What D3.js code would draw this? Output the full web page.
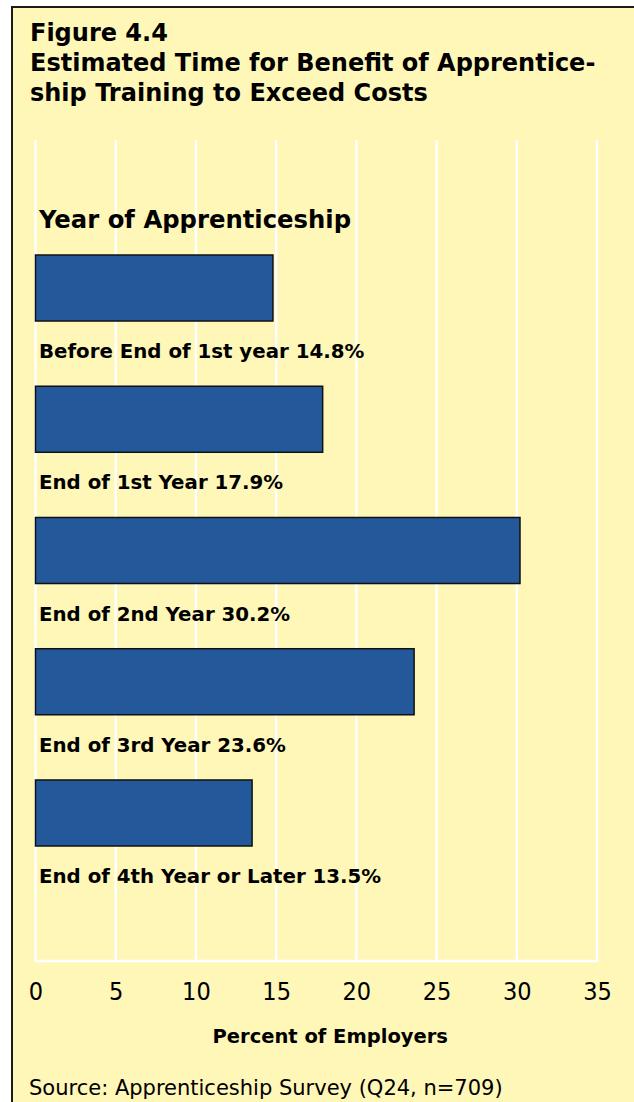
<!DOCTYPE html>
<html>
<head>
<meta charset="utf-8">
<script src="https://cdn.jsdelivr.net/npm/d3@7"></script>
<style>
    html, body { margin: 0; padding: 0; background: #fff; }
    svg { display: block; }
    .title { font-family: "DejaVu Sans", sans-serif; font-weight: 700; fill: #000; }
    .lbl { font-family: "DejaVu Sans", sans-serif; font-weight: 700; fill: #000; }
    .tick-lbl { font-family: "Liberation Sans Narrow", "DejaVu Sans Condensed", sans-serif; fill: #000; }
    .src { font-family: "DejaVu Sans", sans-serif; fill: #000; }
</style>
</head>
<body>
<svg id="chart" width="634" height="1102"></svg>
<script>

// values
const categories = [
    "Before End of 1st year",
    "End of 1st Year",
    "End of 2nd Year",
    "End of 3rd Year",
    "End of 4th Year or Later"
];
const percents = [14.8, 17.9, 30.2, 23.6, 13.5];
const tickValues = [0, 5, 10, 15, 20, 25, 30, 35];
const titleLines = [
    "Figure 4.4",
    "Estimated Time for Benefit of Apprentice-",
    "ship Training to Exceed Costs"
];


const W = 634, H = 1102;
const BG = "#fef7b8",
    BAR = "#23599b";

const svg = d3.select("#chart");

// panel, runs off the right and bottom edge
svg.append("rect")
    .attr("x", 12)
    .attr("y", 7)
    .attr("width", W + 10)
    .attr("height", H + 10)
    .attr("fill", BG)
    .attr("stroke", "#1a1a1a")
    .attr("stroke-width", 2);

svg.selectAll("text.title")
    .data(titleLines)
    .enter()
    .append("text")
    .attr("class", "title")
    .attr("x", 30)
    .attr("y", (d, i) => 41 + i * 30)
    .attr("font-size", 24)
    .text(d => d);

let x = d3.scaleLinear()
    .domain([0, 35])
    .range([35.5, 597]);

let y = d3.scaleBand()
    .domain(categories)
    .range([255, 846])
    .paddingInner(0.497)
    .paddingOuter(0);

const gridTop = 140, gridBottom = 961;

// white grid
svg.append("g")
    .selectAll("line")
    .data(tickValues)
    .enter()
    .append("line")
    .attr("x1", d => x(d))
    .attr("x2", d => x(d))
    .attr("y1", gridTop)
    .attr("y2", gridBottom)
    .attr("stroke", "#fff")
    .attr("stroke-width", 2.5);

svg.append("line")
    .attr("x1", x(0) - 1.25)
    .attr("x2", x(35) + 1.25)
    .attr("y1", gridBottom)
    .attr("y2", gridBottom)
    .attr("stroke", "#fff")
    .attr("stroke-width", 2.5);

svg.append("text")
    .attr("class", "title")
    .attr("x", 39)
    .attr("y", 228)
    .attr("font-size", 24.3)
    .text("Year of Apprenticeship");

let rows = categories.map((c, i) => ({ cat: c, v: percents[i] }));

svg.append("g")
    .selectAll("rect")
    .data(rows)
    .enter()
    .append("rect")
    .attr("x", x(0))
    .attr("y", d => y(d.cat))
    .attr("width", d => x(d.v) - x(0))
    .attr("height", y.bandwidth())
    .attr("fill", BAR)
    .attr("stroke", "#111")
    .attr("stroke-width", 1.5);

svg.append("g")
    .selectAll("text")
    .data(rows)
    .enter()
    .append("text")
    .attr("class", "lbl")
    .attr("x", 39)
    .attr("y", d => y(d.cat) + y.bandwidth() + 37)
    .attr("font-size", 19.8)
    .text(d => d.cat + " " + d.v.toFixed(1) + "%");

// axis, drawn by d3 but stripped down to labels
let axis = svg.append("g")
    .attr("transform", `translate(0, ${gridBottom})`)
    .call(d3.axisBottom(x).tickValues(tickValues).tickSize(0).tickPadding(0));

axis.select(".domain").remove();
axis.selectAll("text")
    .attr("class", "tick-lbl")
    .attr("dy", null)
    .attr("y", 39)
    .attr("font-size", 25)
    .attr("fill", "#000");

svg.append("text")
    .attr("class", "title")
    .attr("x", (x(0) + x(35)) / 2 + 14)
    .attr("y", 1043)
    .attr("text-anchor", "middle")
    .attr("font-size", 19.5)
    .text("Percent of Employers");

svg.append("text")
    .attr("class", "src")
    .attr("x", 29)
    .attr("y", 1095)
    .attr("font-size", 21)
    .text("Source: Apprenticeship Survey (Q24, n=709)");

</script>
</body>
</html>
